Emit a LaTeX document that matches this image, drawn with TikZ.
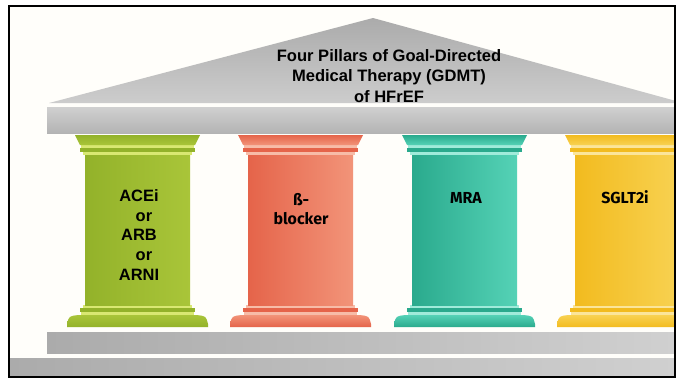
\documentclass[tikz,border=0pt]{standalone}
\usepackage{fontspec}
\usepackage{tikz}
\usetikzlibrary{calc}
\newfontfamily\arialfont{Liberation Sans}
\newfontfamily\firafont{Fira Sans}

\definecolor{greenD}{HTML}{93B22A}
\definecolor{greenL}{HTML}{A9C539}
\definecolor{greenH}{HTML}{D9E872}
\definecolor{redD}{HTML}{E5644A}
\definecolor{redL}{HTML}{F29479}
\definecolor{redH}{HTML}{F7BCA8}
\definecolor{tealD}{HTML}{2AAA8D}
\definecolor{tealL}{HTML}{55D2B6}
\definecolor{tealH}{HTML}{A0EBDA}
\definecolor{yellowD}{HTML}{F2BB1F}
\definecolor{yellowL}{HTML}{F8D252}
\definecolor{yellowH}{HTML}{FBE59A}
\definecolor{stoneD}{HTML}{ABABAB}
\definecolor{stoneL}{HTML}{D0D0D0}
\definecolor{paper}{HTML}{FFFEFA}

% one column: capital, shaft and base around centre x = #2
\def\pillar[#1](#2){
	\begin{scope}[shift={(#2,0)}]
		\fill[#1H] (-56,145) rectangle (57,148);
		\fill[#1H] (-54,152) rectangle (55,155);
		\fill[#1H] (-54,305) rectangle (55,308);
		\fill[#1H] (-56,312) rectangle (57,315);
		\shade[top color=#1D, bottom color=#1L] (-62,135) -- (63,135) -- (58,145) -- (-57,145) -- cycle;
		\fill[#1D] (-57,148) rectangle (58,152);
		\shade[left color=#1D, right color=#1L] (-52,155) rectangle (53,305);
		\fill[#1D] (-57,308) rectangle (58,312);
		\shade[top color=#1L, bottom color=#1D] (-70,327) -- (-70,324) .. controls (-68,316) .. (-58,315) -- (59,315) .. controls (69,316) .. (71,324) -- (71,327) -- cycle;
	\end{scope}
}

\tikzset{
	roofText/.style={align=center, inner sep=0pt, font=\arialfont\bfseries\fontsize{16.6}{20.5}\selectfont},
	pillarText/.style={align=center, inner sep=0pt, font=\firafont\bfseries\fontsize{16}{19}\selectfont},
	acePillarText/.style={align=center, inner sep=0pt, font=\arialfont\bfseries\fontsize{16.5}{19.8}\selectfont}
}

\begin{document}
\begin{tikzpicture}[x=1bp, y=-1bp]
			%%%%% START %%%%%
			\useasboundingbox (0,0) rectangle (683,380);
			\fill[white] (0,0) rectangle (683,380);
			\fill[paper] (9,6) rectangle (675,377);
			
			\begin{scope}
				\clip (10,7) rectangle (674,376);
				
				% roof and beam
				\shade[top color=stoneD, bottom color=stoneL!90!stoneD] (49,103) -- (373,18) -- (676,101) -- (676,103) -- cycle;
				\shade[top color=stoneL, bottom color=stoneD!90!white] (47,107) rectangle (676,133);
				
				% columns
				\pillar[green](137)
				\pillar[red](300)
				\pillar[teal](464)
				\pillar[yellow](627)
				
				% steps
				\shade[left color=stoneD, right color=stoneL] (47,332) rectangle (676,353);
				\shade[left color=stoneD, right color=stoneL] (10,358) rectangle (676,377);
			\end{scope}
			
			\draw[line width=2bp] (9,6) rectangle (675,377);
			
			\node[roofText] (title) at (389,76) {Four Pillars of Goal-Directed\\Medical Therapy (GDMT)\\of HFrEF};
			
			\node[acePillarText] (acei) at (139,235) {ACEi\\\hspace*{0.6em}or\\ARB\\\hspace*{0.6em}or\\ARNI};
			\node[pillarText] (beta) at (301,209) {ß-\\blocker};
			\node[pillarText] (mra) at (466,197.5) {MRA};
			\node[pillarText] (sglt) at (625,197.5) {SGLT2i};
			%%%%% END %%%%%
\end{tikzpicture}
\end{document}
